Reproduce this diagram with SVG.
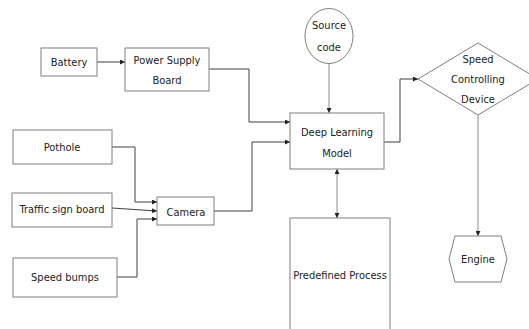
<svg xmlns="http://www.w3.org/2000/svg" width="529" height="329" viewBox="0 0 529 329">
<style>
.box{fill:#fff;stroke:#7f7f7f;stroke-width:1}
.t{font-family:"DejaVu Sans Condensed","Liberation Sans Narrow","Liberation Sans",sans-serif;font-size:11px;fill:#222;text-anchor:middle}
.c{fill:none;stroke:#404040;stroke-width:1}
.g{fill:none;stroke:#8a8a8a;stroke-width:1}
</style>
<defs>
<marker id="ah" viewBox="0 0 6 6" refX="6" refY="3" markerWidth="5" markerHeight="5" orient="auto" markerUnits="userSpaceOnUse">
<path d="M0,0 L6,3 L0,6 z" fill="#222"/>
</marker>
</defs>
<rect width="529" height="329" fill="#fff"/>
<g id="connectors">
<path class="c" d="M97,62 H125" marker-end="url(#ah)"/>
<path class="c" d="M209,69 H249 V122 H290" marker-end="url(#ah)"/>
<path class="g" d="M329,63 V113" marker-end="url(#ah)"/>
<path class="c" d="M214,211 H252 V142 H290" marker-end="url(#ah)"/>
<path class="c" d="M112,147 H135 V202 H157" marker-end="url(#ah)"/>
<path class="c" d="M112,208 L157,211" marker-end="url(#ah)"/>
<path class="c" d="M117,277 H137 V219 H157" marker-end="url(#ah)"/>
<path class="c" d="M384,142 H400 V79 H418" marker-end="url(#ah)"/>
<path class="g" d="M478,115 V236" marker-end="url(#ah)"/>
<path class="g" d="M337,194 V169" marker-end="url(#ah)"/>
<path class="g" d="M337,194 V218" marker-end="url(#ah)"/>
</g>
<g id="battery"><rect class="box" x="41" y="48" width="56" height="28"/><text class="t" x="69" y="66">Battery</text></g>
<g id="power-supply-board"><rect class="box" x="125" y="48" width="84" height="43"/><text class="t" x="167" y="64">Power Supply</text><text class="t" x="167" y="84">Board</text></g>
<g id="source-code"><ellipse class="box" cx="329" cy="36" rx="24" ry="27.5"/><text class="t" x="329" y="29">Source</text><text class="t" x="329" y="51">code</text></g>
<g id="deep-learning-model"><rect class="box" x="290" y="113" width="94" height="56"/><text class="t" x="337" y="136">Deep Learning</text><text class="t" x="337" y="157">Model</text></g>
<g id="speed-controlling-device"><polygon class="box" points="418,79 478,43 538,79 478,115"/><text class="t" x="478" y="63">Speed</text><text class="t" x="478" y="83">Controlling</text><text class="t" x="478" y="103">Device</text></g>
<g id="engine"><polygon class="box" points="449,259 455,236 501,236 507,259 501,282 455,282"/><text class="t" x="478" y="263">Engine</text></g>
<g id="predefined-process"><rect class="box" x="290" y="218" width="100" height="120"/><text class="t" x="340" y="279">Predefined Process</text></g>
<g id="pothole"><rect class="box" x="13" y="130" width="99" height="34"/><text class="t" x="62" y="151">Pothole</text></g>
<g id="traffic-sign-board"><rect class="box" x="12" y="193" width="100" height="34"/><text class="t" x="62" y="213">Traffic sign board</text></g>
<g id="speed-bumps"><rect class="box" x="13" y="258" width="104" height="39"/><text class="t" x="65" y="281">Speed bumps</text></g>
<g id="camera"><rect class="box" x="157" y="197" width="57" height="28"/><text class="t" x="186" y="216">Camera</text></g>
</svg>
